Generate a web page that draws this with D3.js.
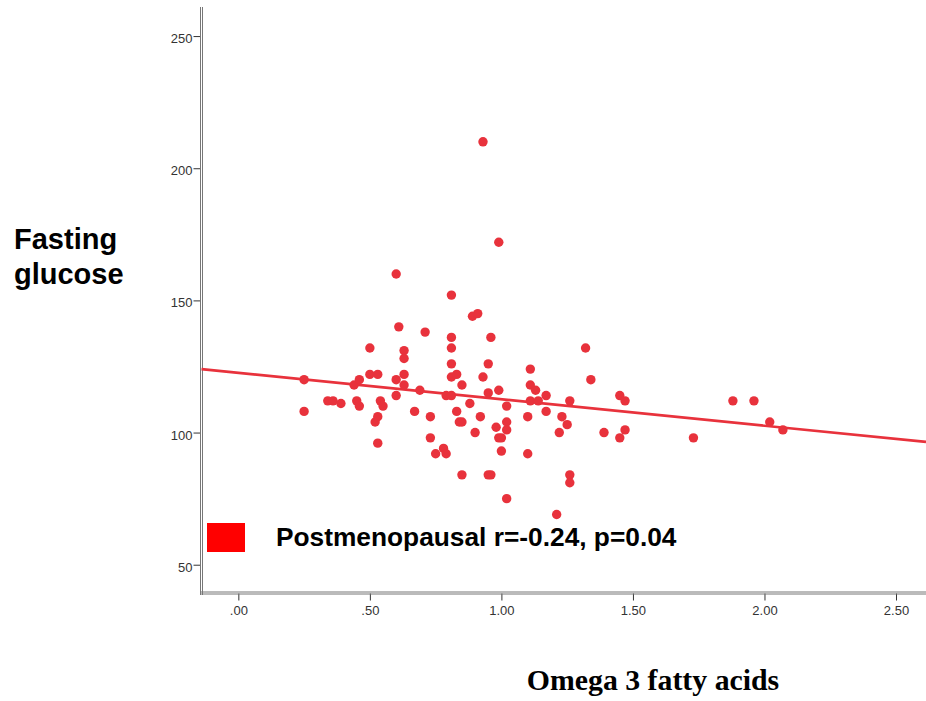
<!DOCTYPE html>
<html>
<head>
<meta charset="utf-8">
<script src="https://cdn.jsdelivr.net/npm/d3@7"></script>
<style>
  html, body { margin: 0; padding: 0; background: #fff; }
  svg { display: block; }
</style>
</head>
<body>
<svg id="chart" width="926" height="701"></svg>
<script>
// ---- data ----
const omega3 = [0.25,0.25,0.34,0.36,0.39,0.44,0.45,0.46,0.46,0.50,0.50,0.53,0.52,0.53,0.54,0.55,0.53,
  0.60,0.61,0.60,0.60,0.63,0.63,0.63,0.63,0.67,0.69,0.71,0.73,0.73,0.75,0.78,0.79,0.79,
  0.81,0.81,0.81,0.81,0.81,0.83,0.81,0.83,0.84,0.85,0.85,0.85,0.88,0.89,0.91,0.90,0.92,0.93,0.93,
  0.95,0.96,0.95,0.95,0.96,0.98,0.99,0.99,0.99,1.00,1.00,1.02,1.02,1.02,1.02,
  1.10,1.10,1.11,1.11,1.11,1.13,1.14,1.17,1.17,1.21,1.22,1.23,1.25,1.26,1.26,1.26,
  1.32,1.34,1.39,1.45,1.47,1.47,1.45,1.73,1.88,1.96,2.02,2.07];
const glucose = [120,108,112,112,111,118,112,120,110,132,122,122,104,106,112,110,96,
  160,140,120,114,131,128,122,118,108,116,138,106,98,92,94,92,114,
  152,136,132,126,121,122,114,108,104,104,118,84,111,144,145,100,106,121,210,
  126,136,115,84,84,102,116,172,98,98,93,110,104,101,75,
  106,92,124,118,112,116,112,114,108,69,100,106,103,112,84,81,
  132,120,100,114,112,101,98,98,112,112,104,101];
const fitIntercept = 122.6;   // fit line
const fitSlope = -10.0;
const xTicks = [0, 0.5, 1.0, 1.5, 2.0, 2.5];
const xTickLabels = [".00", ".50", "1.00", "1.50", "2.00", "2.50"];
const yTicks = [50, 100, 150, 200, 250];
const legendLabel = "Postmenopausal r=-0.24, p=0.04";
const yTitle = ["Fasting", "glucose"];
const xTitle = "Omega 3 fatty acids";

// ---- layout ----
const plotLeft = 201.5, plotRight = 926, plotTop = 7, plotBottom = 593;
const red = "#e8323c";

const svg = d3.select("#chart");
const x = d3.scaleLinear().domain([-0.14, 2.614]).range([plotLeft, plotRight]);
const y = d3.scaleLinear().domain([39.3, 261]).range([plotBottom, plotTop]);

// axes
const xAxis = d3.axisBottom(x).tickValues(xTicks)
  .tickFormat((d, i) => xTickLabels[i]).tickSize(7).tickPadding(5);
const gx = svg.append("g").attr("transform", `translate(0,${plotBottom + 0.5})`).call(xAxis);
gx.select(".domain").remove();
gx.selectAll(".tick line").attr("stroke", "#333");
gx.selectAll(".tick text").attr("fill", "#333")
  .style("font-family", "Arial, 'Liberation Sans', sans-serif").style("font-size", "13px");

const yAxis = d3.axisLeft(y).tickValues(yTicks).tickSize(7).tickPadding(1);
const gy = svg.append("g").attr("transform", `translate(${plotLeft - 1},0)`).call(yAxis);
gy.select(".domain").remove();
gy.selectAll(".tick line").attr("stroke", "#333");
gy.selectAll(".tick text").attr("fill", "#333").attr("dy", "0.5em")
  .style("font-family", "Arial, 'Liberation Sans', sans-serif").style("font-size", "13px");

// double axis lines
[-1, 1].forEach(o => {
  svg.append("line").attr("x1", plotLeft + o).attr("x2", plotLeft + o)
    .attr("y1", plotTop).attr("y2", plotBottom + 2).attr("stroke", "#777").attr("stroke-width", 1);
  svg.append("line").attr("x1", plotLeft - 1).attr("x2", plotRight)
    .attr("y1", plotBottom + o).attr("y2", plotBottom + o).attr("stroke", "#777").attr("stroke-width", 1);
});

// legend
svg.append("rect").attr("x", 207).attr("y", 523).attr("width", 38).attr("height", 29).attr("fill", "#ff0000");
svg.append("text").attr("x", 276).attr("y", 546).text(legendLabel)
  .style("font-family", "Arial, 'Liberation Sans', sans-serif").style("font-weight", "bold")
  .style("font-size", "26.3px").attr("fill", "#000");

// fit line
const x0 = x.domain()[0], x1 = x.domain()[1];
svg.append("line")
  .attr("x1", x(x0)).attr("y1", y(fitIntercept + fitSlope * x0))
  .attr("x2", x(x1)).attr("y2", y(fitIntercept + fitSlope * x1))
  .attr("stroke", red).attr("stroke-width", 2.6);

// points
svg.append("g").selectAll("circle").data(omega3.map((v, i) => [v, glucose[i]]))
  .join("circle")
  .attr("cx", d => x(d[0])).attr("cy", d => y(d[1])).attr("r", 4.7)
  .attr("fill", red);

// titles
const yt = svg.append("text")
  .style("font-family", "Arial, 'Liberation Sans', sans-serif").style("font-weight", "bold")
  .style("font-size", "29px").attr("fill", "#000");
yt.selectAll("tspan").data(yTitle).join("tspan")
  .attr("x", 14).attr("y", (d, i) => 249 + i * 35).text(d => d);

svg.append("text").attr("x", 653).attr("y", 690).attr("text-anchor", "middle")
  .style("font-family", "'Times New Roman', 'Liberation Serif', serif").style("font-weight", "bold")
  .style("font-size", "29.8px").attr("fill", "#000").text(xTitle);
</script>
</body>
</html>
